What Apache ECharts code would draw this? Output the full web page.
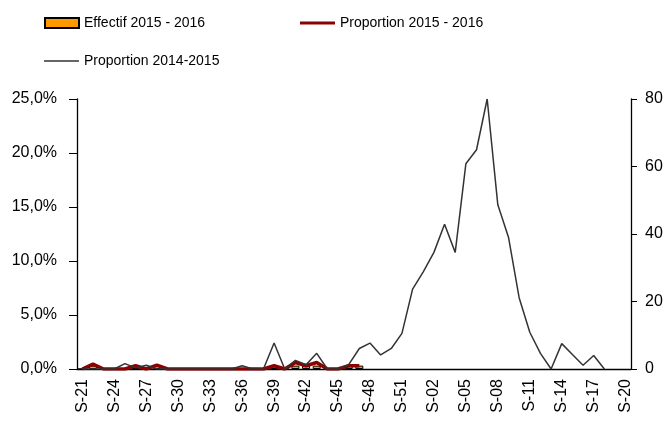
<!DOCTYPE html>
<html>
<head>
<meta charset="utf-8">
<script src="https://cdn.jsdelivr.net/npm/echarts@6/dist/echarts.min.js"></script>
<style>
  html, body { margin: 0; padding: 0; background: #fff; }
  #main { width: 671px; height: 421px; }
</style>
</head>
<body>
<div id="main"></div>
<script>
// semaines S-21 -> S-20
var weeks = ['S-21','S-22','S-23','S-24','S-25','S-26','S-27','S-28','S-29','S-30',
  'S-31','S-32','S-33','S-34','S-35','S-36','S-37','S-38','S-39','S-40',
  'S-41','S-42','S-43','S-44','S-45','S-46','S-47','S-48','S-49','S-50',
  'S-51','S-52','S-01','S-02','S-03','S-04','S-05','S-06','S-07','S-08',
  'S-09','S-10','S-11','S-12','S-13','S-14','S-15','S-16','S-17','S-18',
  'S-19','S-20'];

// effectif 2015-2016 (axe de droite)
var effectif1516 = [0,1,0,0,0,1,0,1,0,0,
  0,0,0,0,0,0,0,0,1,0,
  1,1,1,0,0,1,1];

// proportion 2015-2016 (%)
var prop1516 = [0,0.45,0,0,0,0.3,0,0.35,0,0,
  0,0,0,0,0,0,0,0,0.3,0,
  0.6,0.3,0.6,0,0,0.3,0.3];

// proportion 2014-2015 (%)
var prop1415 = [0,0,0,0,0.5,0.1,0.35,0,0,0,
  0,0,0,0,0,0.3,0,0,2.4,0,
  0.8,0.4,1.45,0,0,0.4,1.9,2.4,1.3,1.9,
  3.3,7.4,9.0,10.8,13.4,10.8,19.0,20.3,25.0,15.2,
  12.2,6.6,3.4,1.45,0,2.35,1.35,0.35,1.25,0];

var leftTicks = [0, 25, 5];
var rightTicks = [0, 80, 20];

var font = 'Liberation Sans, Arial, sans-serif';
var legendText = { fontSize: 14, color: '#000', fontFamily: font };

var option = {
  animation: false,
  textStyle: { fontFamily: font },
  grid: { left: 77, right: 40, top: 99, bottom: 52, outerBoundsMode: 'none' },
  legend: [
    { data: [{ name: 'Effectif 2015 - 2016', icon: 'rect' }], left: 39, top: 11,
      itemWidth: 34, itemHeight: 10, textStyle: legendText },
    { data: [{ name: 'Proportion 2015 - 2016', icon: 'rect' }], left: 295, top: 11,
      itemWidth: 35, itemHeight: 3, textStyle: legendText,
      itemStyle: { color: '#8B0000', borderWidth: 0 } },
    { data: [{ name: 'Proportion 2014-2015', icon: 'rect' }], left: 39, top: 49,
      itemWidth: 35, itemHeight: 1.5, textStyle: legendText,
      itemStyle: { color: '#333', borderWidth: 0 } }
  ],
  xAxis: {
    type: 'category',
    data: weeks,
    boundaryGap: true,
    axisLine: { lineStyle: { color: '#000', width: 1.3 } },
    axisTick: { interval: 0, length: 5, lineStyle: { color: '#000' } },
    axisLabel: { interval: 2, rotate: 90, fontSize: 16, color: '#000', margin: 10, fontFamily: font },
    splitLine: { show: false }
  },
  yAxis: [
    {
      type: 'value',
      min: leftTicks[0], max: leftTicks[1], interval: leftTicks[2],
      axisLine: { show: true, lineStyle: { color: '#000', width: 1.3 } },
      axisTick: { show: true, length: 8, lineStyle: { color: '#000' } },
      axisLabel: {
        fontSize: 16, color: '#000', margin: 20, fontFamily: font,
        formatter: function (v) { return v.toFixed(1).replace('.', ',') + '%'; }
      },
      splitLine: { show: false }
    },
    {
      type: 'value',
      position: 'right',
      min: rightTicks[0], max: rightTicks[1], interval: rightTicks[2],
      axisLine: { show: true, lineStyle: { color: '#000', width: 1.3 } },
      axisTick: { show: true, length: 6, lineStyle: { color: '#000' } },
      axisLabel: { fontSize: 16, color: '#000', margin: 14, fontFamily: font },
      splitLine: { show: false }
    }
  ],
  series: [
    {
      name: 'Effectif 2015 - 2016',
      type: 'bar',
      yAxisIndex: 1,
      data: effectif1516,
      barCategoryGap: '25%',
      itemStyle: { color: '#FF9900', borderColor: '#000', borderWidth: 1 }
    },
    {
      name: 'Proportion 2015 - 2016',
      type: 'line',
      yAxisIndex: 0,
      data: prop1516,
      symbol: 'none',
      color: '#8B0000',
      lineStyle: { color: '#8B0000', width: 3.5 }
    },
    {
      name: 'Proportion 2014-2015',
      type: 'line',
      yAxisIndex: 0,
      data: prop1415,
      symbol: 'none',
      color: '#333',
      lineStyle: { color: '#333', width: 1.5 }
    }
  ]
};

var myChart = echarts.init(document.getElementById('main'));
myChart.setOption(option);
</script>
</body>
</html>
